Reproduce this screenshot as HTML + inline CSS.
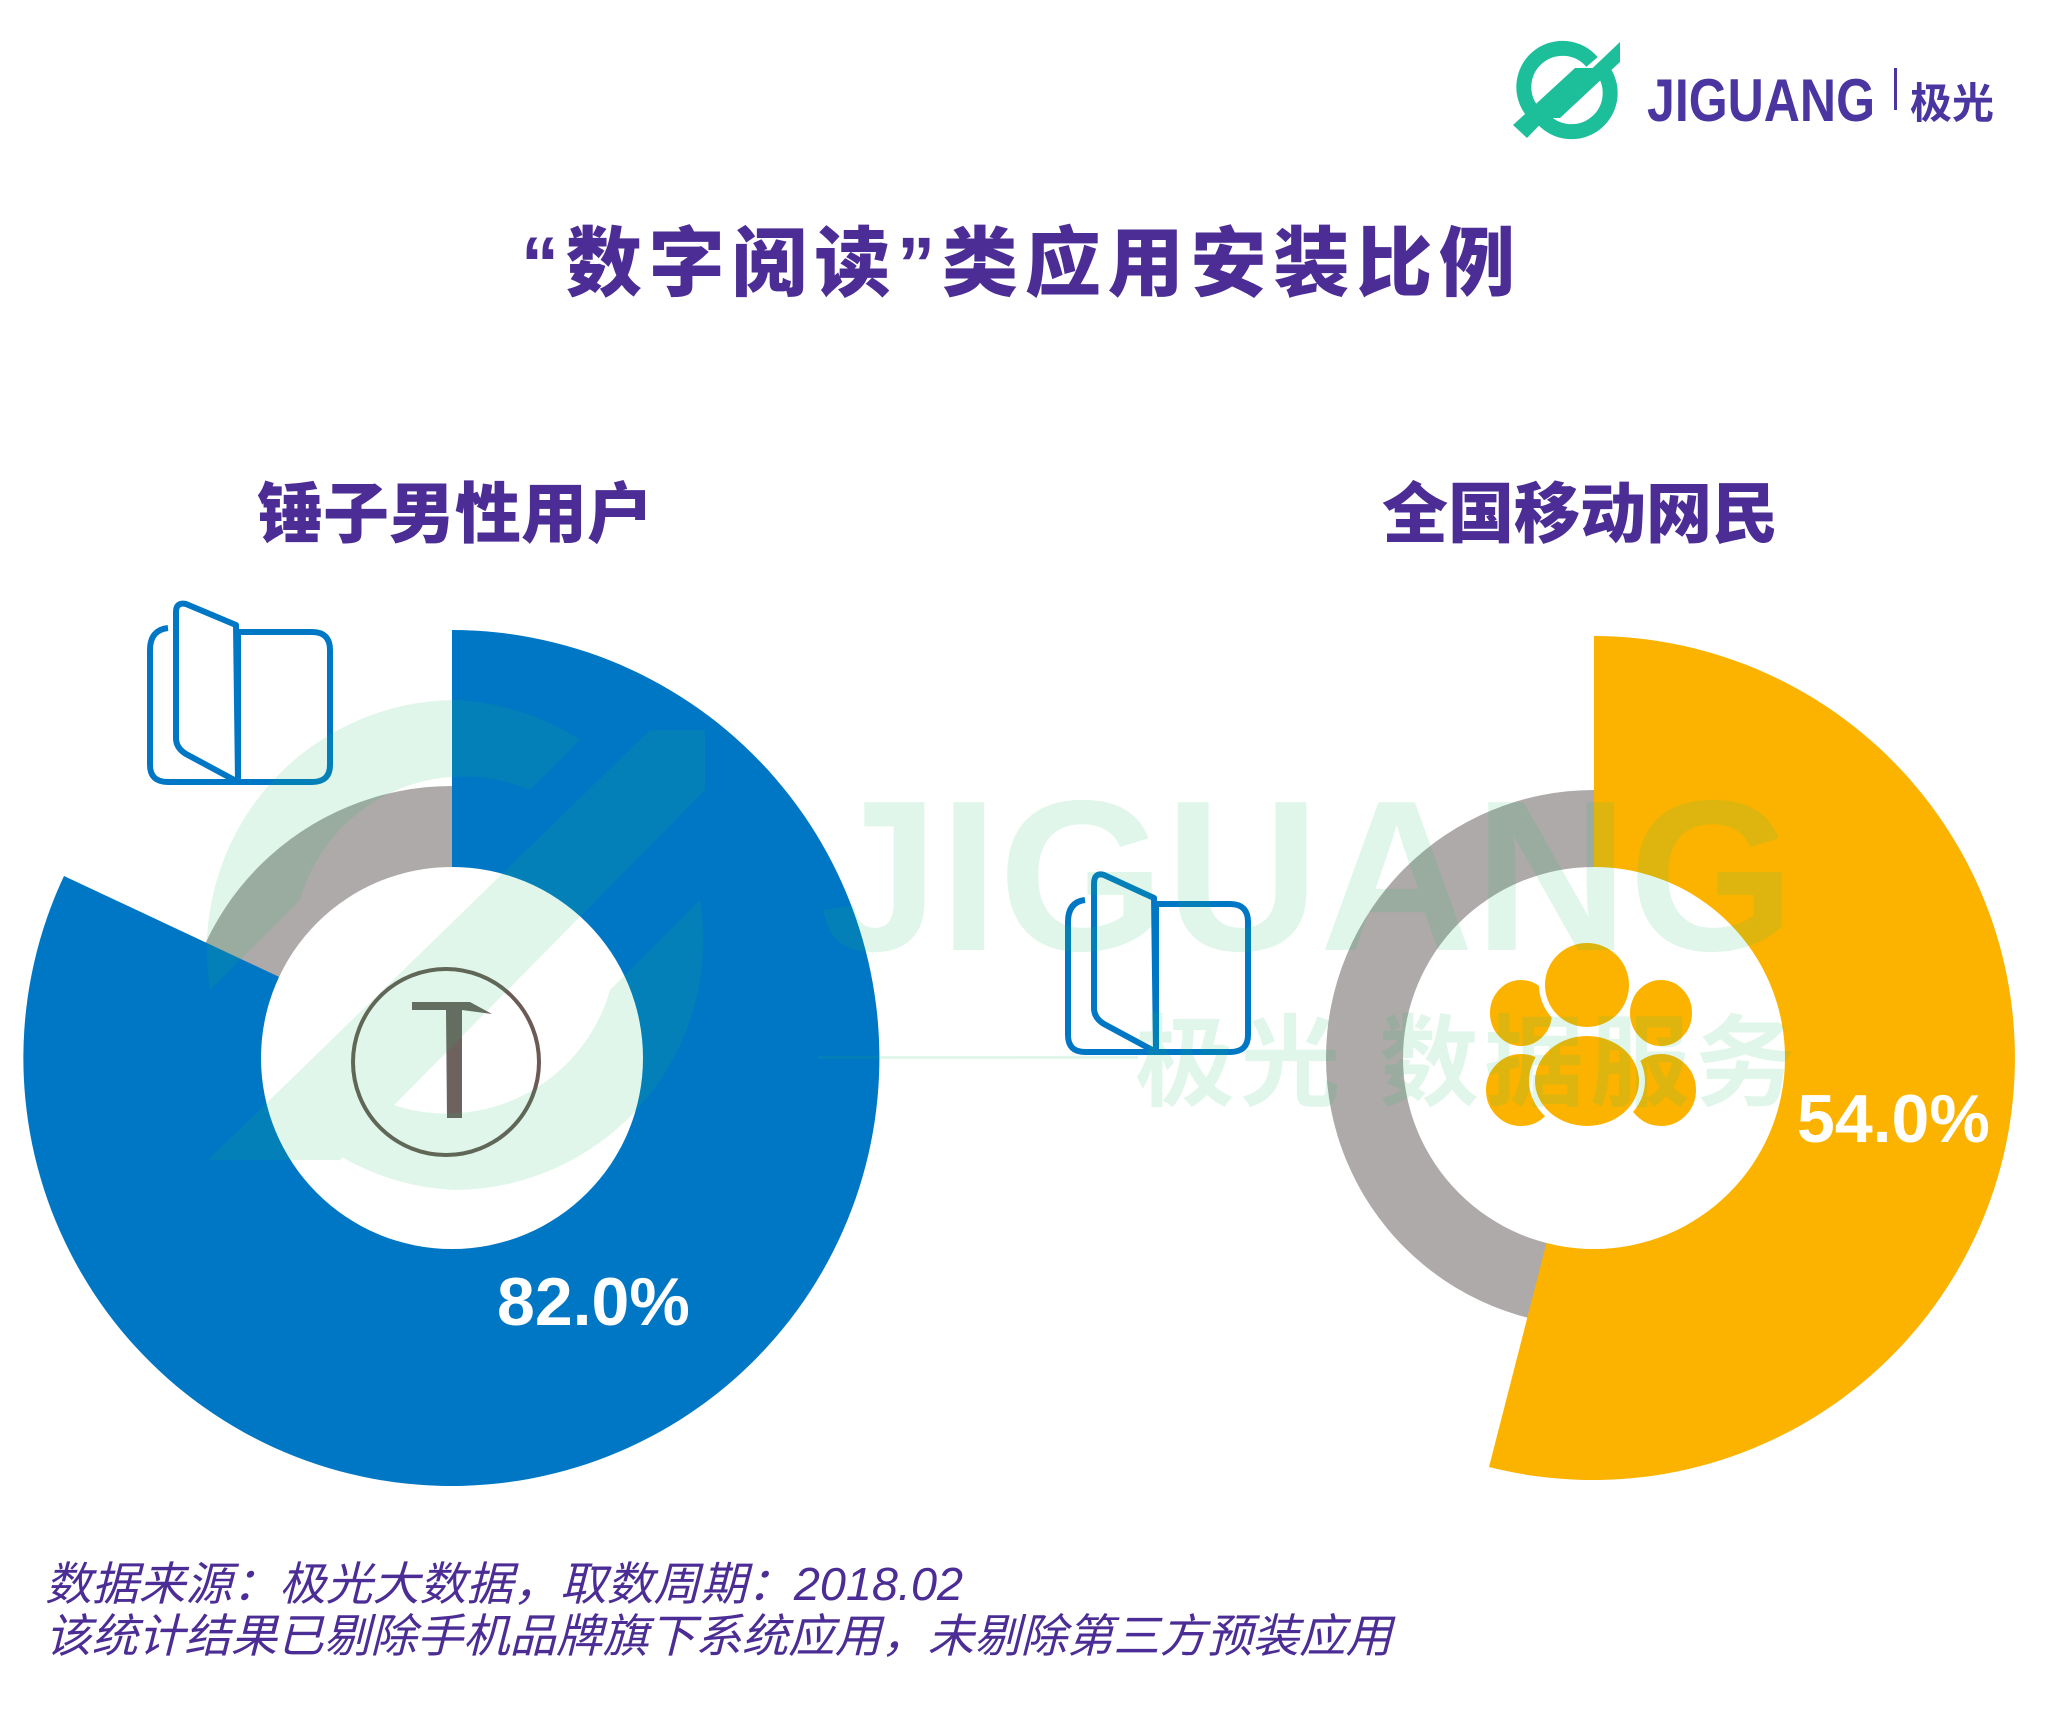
<!DOCTYPE html>
<html><head><meta charset="utf-8"><style>
html,body{margin:0;padding:0;background:#fff;}
svg{display:block;}
</style></head><body>
<svg width="2048" height="1712" viewBox="0 0 2048 1712" xmlns="http://www.w3.org/2000/svg">
<rect width="2048" height="1712" fill="#fff"/>
<!-- Logo -->
<g fill="none" stroke="#1dbf9b" stroke-width="15">
  <path d="M1592 62 A36 36 0 0 0 1533 112"/>
  <path d="M1542 118 A36 36 0 0 0 1601 68"/>
</g>
<g fill="#1dbf9b">
  <polygon points="1513,125 1575,68 1595,68 1527,138"/>
  <polygon points="1620,42 1620,62 1560,118 1540,118"/>
</g>
<text x="1647" y="121" font-family="Liberation Sans, sans-serif" font-weight="bold" font-size="60" fill="#4b35a0" textLength="228" lengthAdjust="spacingAndGlyphs">JIGUANG</text>
<rect x="1894" y="68" width="3" height="42" fill="#4b35a0"/>
<text x="1910" y="118" font-family="Liberation Sans, Noto Sans CJK SC, sans-serif" font-weight="bold" font-size="42" fill="#4b35a0">极光</text>
<!-- Title -->
<text x="521" y="290" font-family="Liberation Sans, Noto Sans CJK SC, sans-serif" font-weight="900" font-size="76" fill="#4b2d95" textLength="994" lengthAdjust="spacing">“数字阅读”类应用安装比例</text>
<text x="455" y="537" text-anchor="middle" font-family="Liberation Sans, Noto Sans CJK SC, sans-serif" font-weight="900" font-size="66" fill="#4b2d95">锤子男性用户</text>
<text x="1580" y="537" text-anchor="middle" font-family="Liberation Sans, Noto Sans CJK SC, sans-serif" font-weight="900" font-size="66" fill="#4b2d95">全国移动网民</text>
<!-- Left donut -->
<circle cx="452" cy="1058" r="272" fill="#aeaaa9"/>
<path d="M452 1058 L452 630 A428 428 0 1 1 64 876 Z" fill="#0077c4"/>
<circle cx="452" cy="1058" r="191" fill="#fff"/>
<!-- Right donut -->
<circle cx="1594" cy="1058" r="268" fill="#aeaaa9"/>
<path d="M1594 1058 L1594 636 A422 422 0 1 1 1489 1467 Z" fill="#fcb300"/>
<circle cx="1594" cy="1058" r="191" fill="#fff"/>
<!-- T icon -->
<circle cx="446" cy="1062" r="93" fill="none" stroke="#6b5a55" stroke-width="4"/>
<path d="M412 1002 L470 1002 L492 1014 L462 1010 L462 1118 L447 1118 L446 1010 L412 1010 Z" fill="#6e625f"/>
<!-- people -->
<g fill="#fcb300" stroke="#fff" stroke-width="6">
  <ellipse cx="1521" cy="1090" rx="38" ry="39"/>
  <ellipse cx="1661" cy="1090" rx="38" ry="39"/>
  <ellipse cx="1521" cy="1013" rx="34" ry="36"/>
  <ellipse cx="1661" cy="1013" rx="34" ry="36"/>
  <ellipse cx="1587" cy="1081" rx="55" ry="48"/>
  <ellipse cx="1587" cy="985" rx="45" ry="45"/>
</g>
<!-- books -->
<g fill="none" stroke="#0077c4" stroke-width="6" stroke-linejoin="round">
  <path d="M168 628 Q150 630 150 650 L150 765 Q150 782 168 782 L312 782 Q330 782 330 765 L330 650 Q330 632 312 632 L236 632"/>
  <path d="M176 612 Q176 602 186 604 L236 625 L238 782 L186 754 Q176 748 176 738 Z"/>
  <line x1="238" y1="632" x2="238" y2="782"/>
  <path d="M1085 900 Q1068 902 1068 922 L1068 1035 Q1068 1052 1085 1052 L1230 1052 Q1248 1052 1248 1035 L1248 922 Q1248 904 1230 904 L1155 904"/>
  <path d="M1094 884 Q1094 872 1104 875 L1154 898 L1156 1052 L1104 1024 Q1094 1018 1094 1008 Z"/>
  <line x1="1156" y1="904" x2="1156" y2="1052"/>
</g>
<!-- labels -->
<text x="497" y="1325" font-family="Liberation Sans, sans-serif" font-weight="bold" font-size="68" fill="#fff">82.0%</text>
<text x="1797" y="1142" font-family="Liberation Sans, sans-serif" font-weight="bold" font-size="68" fill="#fff">54.0%</text>
<!-- watermark -->
<g opacity="0.13" fill="#1dbf6b">
  <path d="M455 700 A250 250 0 0 0 210 990 L300 900 A170 170 0 0 1 530 790 L580 740 A250 250 0 0 0 455 700 Z"/>
  <path d="M455 1190 A250 250 0 0 0 700 900 L610 990 A170 170 0 0 1 380 1100 L330 1150 A250 250 0 0 0 455 1190 Z"/>
  <polygon points="208,1160 650,730 705,730 705,790 340,1160"/>
  <text x="820" y="950" font-family="Liberation Sans, sans-serif" font-weight="bold" font-size="215" textLength="975" lengthAdjust="spacingAndGlyphs">JIGUANG</text>
  <text x="1135" y="1098" font-family="Liberation Sans, Noto Sans CJK SC, sans-serif" font-weight="bold" font-size="100" textLength="660" lengthAdjust="spacing">极光 数据服务</text>
  <rect x="818" y="1056" width="320" height="3"/>
</g>
<!-- footer -->
<text x="45" y="1600" font-family="Liberation Sans, Noto Sans CJK SC, sans-serif" font-style="italic" font-size="46" fill="#4b2d95" textLength="918" lengthAdjust="spacingAndGlyphs">数据来源：极光大数据，取数周期：2018.02</text>
<text x="45" y="1652" font-family="Liberation Sans, Noto Sans CJK SC, sans-serif" font-style="italic" font-size="46" fill="#4b2d95" textLength="1347" lengthAdjust="spacingAndGlyphs">该统计结果已剔除手机品牌旗下系统应用，未剔除第三方预装应用</text>
</svg>
</body></html>
